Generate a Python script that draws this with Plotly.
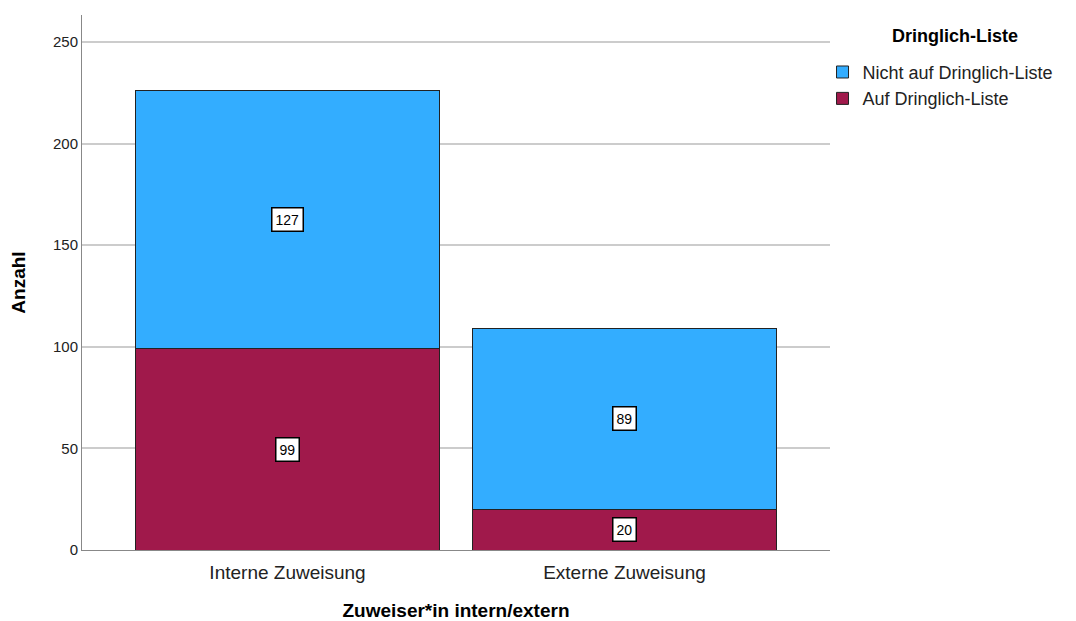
import plotly.graph_objects as go

categories = ["Interne Zuweisung", "Externe Zuweisung"]
auf_liste = [99, 20]
nicht_auf_liste = [127, 89]
y_ticks = [0, 50, 100, 150, 200, 250]

FONT = "Arial, Liberation Sans, sans-serif"
BLUE = "#33ADFF"
MAROON = "#A0194B"

fig = go.Figure()
fig.add_trace(go.Bar(x=categories, y=auf_liste, name="Auf Dringlich-Liste",
                     marker=dict(color=MAROON, line=dict(color="#222222", width=1)),
                     width=0.9))
fig.add_trace(go.Bar(x=categories, y=nicht_auf_liste, name="Nicht auf Dringlich-Liste",
                     marker=dict(color=BLUE, line=dict(color="#222222", width=1)),
                     width=0.9))

# value labels in the middle of each segment
for cat, a, n in zip(categories, auf_liste, nicht_auf_liste):
    for val, mid in ((a, a / 2), (n, a + n / 2)):
        fig.add_annotation(x=cat, y=mid, text=str(val), showarrow=False,
                           font=dict(family=FONT, size=14, color="black"),
                           bgcolor="white", bordercolor="black", borderwidth=1.5, borderpad=3)

# legend title as a separate label, so the gap to the items can be set freely
fig.add_annotation(x=1.167, y=0.984, xref="paper", yref="paper", xanchor="center",
                   text="<b>Dringlich-Liste</b>", showarrow=False,
                   font=dict(family=FONT, size=18, color="black"))

# page body has an 8px margin, so the figure is a bit smaller than the window
fig.update_layout(
    width=1068, height=613,
    barmode="stack",
    plot_bgcolor="white", paper_bgcolor="white",
    margin=dict(l=74, r=246, t=7, b=71),
    font=dict(family=FONT, color="#222222"),
    legend=dict(
        x=0.99, xanchor="left", y=0.9275, yanchor="top",
        traceorder="reversed", font=dict(size=18, color="#222222"),
        tracegroupgap=0, itemwidth=30,
    ),
    xaxis=dict(
        type="category", range=[-0.61, 1.61], automargin=False,
        showline=True, linecolor="#888888", linewidth=1,
        ticks="", tickfont=dict(size=19, color="#222222"), ticklabelstandoff=5,
        title=dict(text="<b>Zuweiser*in intern/extern</b>", font=dict(size=19, color="black"),
                   standoff=27),
    ),
    yaxis=dict(
        range=[0, 263.3], tickvals=y_ticks, automargin=False,
        showline=True, linecolor="#888888", linewidth=1,
        showgrid=True, gridcolor="#CCCCCC", gridwidth=1.5,
        zeroline=False, ticks="", tickfont=dict(size=15, color="#222222"),
        title=dict(text="<b>Anzahl</b>", font=dict(size=19, color="black"), standoff=22),
    ),
)

fig.write_html("out.html")
